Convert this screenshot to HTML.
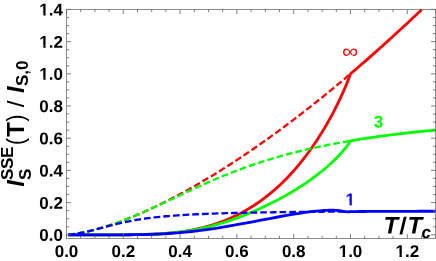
<!DOCTYPE html>
<html><head><meta charset="utf-8"><title>SSE spin current</title>
<style>
html,body{margin:0;padding:0;background:#fff;}
body{width:436px;height:261px;overflow:hidden;font-family:"Liberation Sans",sans-serif;}
svg{display:block;will-change:transform;}
text{font-family:"Liberation Sans",sans-serif;}
.tl{font-weight:bold;font-size:17px;fill:#000;}
.b{font-weight:bold;}
.bi{font-weight:bold;font-style:italic;}
</style></head><body>
<svg width="436" height="261" viewBox="0 0 436 261">
<rect x="0" y="0" width="436" height="261" fill="#ffffff"/>
<defs><clipPath id="cp"><rect x="66.50" y="5.50" width="371.00" height="232.90"/></clipPath></defs>

<g clip-path="url(#cp)" fill="none" stroke-linejoin="round">
<path d="M68.35 234.72 L69.34 234.64 L72.18 234.34 L75.02 233.96 L77.86 233.51 L80.70 233.00 L83.54 232.43 L86.38 231.82 L89.22 231.16 L92.06 230.45 L94.90 229.71 L97.74 228.93 L100.58 228.11 L103.42 227.25 L106.26 226.37 L109.10 225.45 L111.94 224.50 L114.78 223.52 L117.62 222.50 L120.46 221.47 L123.30 220.40 L126.14 219.31 L128.98 218.19 L131.82 217.04 L134.66 215.87 L137.50 214.68 L140.34 213.46 L143.18 212.21 L146.02 210.95 L148.86 209.66 L151.70 208.35 L154.54 207.01 L157.38 205.66 L160.22 204.28 L163.06 202.88 L165.90 201.46 L168.74 200.02 L171.58 198.56 L174.42 197.09 L177.26 195.59 L180.10 194.07 L182.94 192.53 L185.78 190.98 L188.62 189.40 L191.46 187.81 L194.30 186.20 L197.14 184.57 L199.98 182.92 L202.82 181.26 L205.66 179.58 L208.50 177.88 L211.34 176.16 L214.18 174.43 L217.02 172.68 L219.86 170.91 L222.70 169.13 L225.54 167.33 L228.38 165.52 L231.22 163.68 L234.06 161.84 L236.90 159.97 L239.74 158.10 L242.58 156.20 L245.42 154.29 L248.26 152.37 L251.10 150.43 L253.94 148.47 L256.78 146.50 L259.62 144.52 L262.46 142.52 L265.30 140.51 L268.14 138.48 L270.98 136.44 L273.82 134.38 L276.66 132.31 L279.50 130.23 L282.34 128.13 L285.18 126.02 L288.02 123.89 L290.86 121.75 L293.70 119.60 L296.54 117.43 L299.38 115.25 L302.22 113.06 L305.06 110.85 L307.90 108.63 L310.74 106.40 L313.58 104.15 L316.42 101.89 L319.26 99.62 L322.10 97.34 L324.94 95.04 L327.78 92.73 L330.62 90.41 L333.46 88.07 L336.30 85.72 L339.14 83.36 L341.98 80.99 L344.82 78.61 L347.66 76.21 L350.50 73.80" stroke="#ff0000" stroke-width="2.3" stroke-dasharray="6.7 3.0" stroke-dashoffset="0.2"/>
<path d="M68.35 234.80 L72.18 234.80 L77.86 234.80 L83.54 234.80 L89.22 234.80 L94.90 234.80 L100.58 234.80 L106.26 234.80 L111.94 234.80 L117.62 234.79 L123.30 234.78 L128.98 234.75 L134.66 234.69 L140.34 234.61 L146.02 234.47 L151.70 234.27 L157.38 234.00 L163.06 233.64 L168.74 233.18 L174.42 232.61 L180.10 231.91 L185.78 231.08 L191.46 230.09 L197.14 228.93 L202.82 227.60 L208.50 226.08 L214.18 224.36 L219.86 222.42 L225.54 220.26 L231.22 217.84 L236.90 215.18 L242.58 212.24 L248.26 209.01 L253.94 205.49 L259.62 201.64 L265.30 197.46 L270.98 192.92 L276.66 188.00 L282.34 182.69 L288.02 176.97 L293.70 170.79 L299.38 164.14 L305.06 156.99 L310.74 149.29 L316.42 141.00 L322.10 132.08 L323.52 129.74 L324.94 127.36 L326.36 124.93 L327.78 122.45 L329.20 119.93 L330.62 117.35 L332.04 114.72 L333.46 112.03 L334.88 109.29 L336.30 106.49 L337.72 103.62 L339.14 100.69 L340.56 97.69 L341.98 94.61 L343.40 91.44 L344.82 88.19 L346.24 84.83 L347.66 81.35 L349.08 77.72 L350.47 73.89 L350.50 73.80 L353.34 71.38 L356.18 68.95 L359.02 66.50 L361.86 64.04 L364.70 61.58 L367.54 59.09 L370.38 56.60 L373.22 54.10 L376.06 51.58 L378.90 49.06 L381.74 46.52 L384.58 43.97 L387.42 41.41 L390.26 38.83 L393.10 36.25 L395.94 33.65 L398.78 31.05 L401.62 28.43 L404.46 25.80 L407.30 23.16 L410.14 20.51 L412.98 17.85 L415.82 15.17 L418.66 12.49 L421.50 9.80 L421.92 9.40" stroke="#ff0000" stroke-width="2.8"/>
<path d="M68.35 234.72 L69.34 234.64 L72.18 234.34 L75.02 233.96 L77.86 233.51 L80.70 233.00 L83.54 232.43 L86.38 231.82 L89.22 231.16 L92.06 230.45 L94.90 229.71 L97.74 228.93 L100.58 228.11 L103.42 227.25 L106.26 226.37 L109.10 225.45 L111.94 224.50 L114.78 223.52 L117.62 222.51 L120.46 221.47 L123.30 220.40 L126.14 219.31 L128.98 218.19 L131.82 217.05 L134.66 215.88 L137.50 214.69 L140.34 213.48 L143.18 212.25 L146.02 211.00 L148.86 209.74 L151.70 208.45 L154.54 207.16 L157.38 205.85 L160.22 204.53 L163.06 203.21 L165.90 201.87 L168.74 200.53 L171.58 199.19 L174.42 197.85 L177.26 196.51 L180.10 195.16 L182.94 193.83 L185.78 192.49 L188.62 191.16 L191.46 189.84 L194.30 188.53 L197.14 187.23 L199.98 185.94 L202.82 184.67 L205.66 183.40 L208.50 182.15 L211.34 180.92 L214.18 179.70 L217.02 178.49 L219.86 177.31 L222.70 176.14 L225.54 174.98 L228.38 173.85 L231.22 172.73 L234.06 171.63 L236.90 170.55 L239.74 169.48 L242.58 168.44 L245.42 167.41 L248.26 166.41 L251.10 165.42 L253.94 164.45 L256.78 163.49 L259.62 162.56 L262.46 161.64 L265.30 160.74 L268.14 159.86 L270.98 159.00 L273.82 158.15 L276.66 157.32 L279.50 156.51 L282.34 155.71 L285.18 154.93 L288.02 154.16 L290.86 153.41 L293.70 152.68 L296.54 151.96 L299.38 151.26 L302.22 150.57 L305.06 149.89 L307.90 149.23 L310.74 148.59 L313.58 147.95 L316.42 147.33 L319.26 146.72 L322.10 146.13 L324.94 145.54 L327.78 144.97 L330.62 144.41 L333.46 143.87 L336.30 143.33 L339.14 142.80 L341.98 142.29 L344.82 141.79 L347.66 141.29 L350.50 140.81" stroke="#00ff00" stroke-width="2.3" stroke-dasharray="6.7 3.0" stroke-dashoffset="0.2"/>
<path d="M68.35 234.80 L72.18 234.80 L77.86 234.80 L83.54 234.80 L89.22 234.80 L94.90 234.80 L100.58 234.80 L106.26 234.80 L111.94 234.80 L117.62 234.79 L123.30 234.78 L128.98 234.75 L134.66 234.69 L140.34 234.61 L146.02 234.47 L151.70 234.27 L157.38 234.01 L163.06 233.66 L168.74 233.21 L174.42 232.67 L180.10 232.01 L185.78 231.22 L191.46 230.31 L197.14 229.27 L202.82 228.09 L208.50 226.77 L214.18 225.31 L219.86 223.71 L225.54 221.97 L231.22 220.08 L236.90 218.06 L242.58 215.91 L248.26 213.63 L253.94 211.23 L259.62 208.72 L265.30 206.09 L270.98 203.32 L276.66 200.42 L282.34 197.37 L288.02 194.18 L293.70 190.83 L299.38 187.30 L305.06 183.58 L310.74 179.65 L316.42 175.47 L322.10 171.01 L323.52 169.85 L324.94 168.66 L326.36 167.45 L327.78 166.21 L329.20 164.95 L330.62 163.67 L332.04 162.35 L333.46 161.00 L334.88 159.63 L336.30 158.21 L337.72 156.76 L339.14 155.26 L340.56 153.73 L341.98 152.13 L343.40 150.49 L344.82 148.78 L346.24 146.99 L347.66 145.10 L349.08 143.08 L350.47 140.86 L350.50 140.81 L353.34 140.33 L356.18 139.87 L359.02 139.42 L361.86 138.97 L364.70 138.53 L367.54 138.11 L370.38 137.69 L373.22 137.28 L376.06 136.87 L378.90 136.48 L381.74 136.09 L384.58 135.71 L387.42 135.34 L390.26 134.98 L393.10 134.62 L395.94 134.27 L398.78 133.92 L401.62 133.59 L404.46 133.26 L407.30 132.93 L410.14 132.61 L412.98 132.30 L415.82 132.00 L418.66 131.70 L421.50 131.40 L424.34 131.11 L427.18 130.83 L430.02 130.55 L432.86 130.28 L435.70 130.01" stroke="#00ff00" stroke-width="2.8"/>
<path d="M68.35 234.72 L69.34 234.64 L72.18 234.34 L75.02 233.96 L77.86 233.51 L80.70 233.00 L83.54 232.43 L86.38 231.82 L89.22 231.16 L92.06 230.46 L94.90 229.73 L97.74 228.98 L100.58 228.21 L103.42 227.43 L106.26 226.66 L109.10 225.90 L111.94 225.15 L114.78 224.43 L117.62 223.74 L120.46 223.07 L123.30 222.43 L126.14 221.83 L128.98 221.26 L131.82 220.72 L134.66 220.21 L137.50 219.73 L140.34 219.28 L143.18 218.86 L146.02 218.46 L148.86 218.09 L151.70 217.73 L154.54 217.41 L157.38 217.10 L160.22 216.80 L163.06 216.53 L165.90 216.27 L168.74 216.03 L171.58 215.80 L174.42 215.59 L177.26 215.39 L180.10 215.20 L182.94 215.02 L185.78 214.85 L188.62 214.68 L191.46 214.53 L194.30 214.39 L197.14 214.25 L199.98 214.12 L202.82 214.00 L205.66 213.88 L208.50 213.77 L211.34 213.67 L214.18 213.57 L217.02 213.47 L219.86 213.38 L222.70 213.29 L225.54 213.21 L228.38 213.13 L231.22 213.06 L234.06 212.99 L236.90 212.92 L239.74 212.85 L242.58 212.79 L245.42 212.73 L248.26 212.67 L251.10 212.62 L253.94 212.56 L256.78 212.51 L259.62 212.46 L262.46 212.42 L265.30 212.37 L268.14 212.33 L270.98 212.29 L273.82 212.25 L276.66 212.21 L279.50 212.17 L282.34 212.14 L285.18 212.10 L288.02 212.07 L290.86 212.04 L293.70 212.00 L296.54 211.97 L299.38 211.95 L302.22 211.92 L305.06 211.89 L307.90 211.86 L310.74 211.84 L313.58 211.81 L316.42 211.79 L319.26 211.77 L322.10 211.75 L324.94 211.72 L327.78 211.70 L330.62 211.68 L333.46 211.66 L336.30 211.64 L339.14 211.63 L341.98 211.61 L344.82 211.59 L347.66 211.57 L350.50 211.56" stroke="#0000ff" stroke-width="2.3" stroke-dasharray="6.7 3.0" stroke-dashoffset="0.2"/>
<path d="M68.35 234.80 L72.18 234.80 L77.86 234.80 L83.54 234.80 L89.22 234.80 L94.90 234.80 L100.58 234.80 L106.26 234.80 L111.94 234.80 L117.62 234.79 L123.30 234.78 L128.98 234.75 L134.66 234.70 L140.34 234.62 L146.02 234.50 L151.70 234.34 L157.38 234.12 L163.06 233.85 L168.74 233.51 L174.42 233.11 L180.10 232.64 L185.78 232.11 L191.46 231.51 L197.14 230.85 L202.82 230.13 L208.50 229.35 L214.18 228.52 L219.86 227.63 L225.54 226.71 L231.22 225.74 L236.90 224.74 L242.58 223.70 L248.26 222.65 L253.94 221.57 L259.62 220.49 L265.30 219.40 L270.98 218.32 L276.66 217.25 L282.34 216.20 L288.02 215.18 L293.70 214.21 L299.38 213.29 L305.06 212.44 L310.74 211.69 L316.42 211.05 L322.10 210.57 L323.52 210.47 L324.94 210.39 L326.36 210.33 L327.78 210.28 L329.20 210.24 L330.62 210.22 L332.04 210.23 L333.46 210.25 L334.88 210.30 L336.30 210.38 L337.72 210.48 L339.14 210.62 L340.56 210.80 L341.98 211.02 L343.40 211.29 L344.82 211.53 L346.24 211.71 L347.66 211.82 L349.08 211.80 L350.47 211.57 L350.50 211.56 L353.34 211.54 L356.18 211.53 L359.02 211.51 L361.86 211.50 L364.70 211.48 L367.54 211.47 L370.38 211.46 L373.22 211.44 L376.06 211.43 L378.90 211.42 L381.74 211.40 L384.58 211.39 L387.42 211.38 L390.26 211.37 L393.10 211.36 L395.94 211.35 L398.78 211.34 L401.62 211.33 L404.46 211.32 L407.30 211.31 L410.14 211.30 L412.98 211.29 L415.82 211.28 L418.66 211.27 L421.50 211.26 L424.34 211.26 L427.18 211.25 L430.02 211.24 L432.86 211.23 L435.70 211.22" stroke="#0000ff" stroke-width="2.8"/>
</g>
<g stroke="#606060" stroke-width="0.7" fill="none">
<rect x="66.50" y="9.50" width="369.00" height="228.90"/>
<path d="M66.50 238.40 v-4.50 M66.50 9.50 v4.50 M80.70 238.40 v-2.60 M80.70 9.50 v2.60 M94.90 238.40 v-2.60 M94.90 9.50 v2.60 M109.10 238.40 v-2.60 M109.10 9.50 v2.60 M123.30 238.40 v-4.50 M123.30 9.50 v4.50 M137.50 238.40 v-2.60 M137.50 9.50 v2.60 M151.70 238.40 v-2.60 M151.70 9.50 v2.60 M165.90 238.40 v-2.60 M165.90 9.50 v2.60 M180.10 238.40 v-4.50 M180.10 9.50 v4.50 M194.30 238.40 v-2.60 M194.30 9.50 v2.60 M208.50 238.40 v-2.60 M208.50 9.50 v2.60 M222.70 238.40 v-2.60 M222.70 9.50 v2.60 M236.90 238.40 v-4.50 M236.90 9.50 v4.50 M251.10 238.40 v-2.60 M251.10 9.50 v2.60 M265.30 238.40 v-2.60 M265.30 9.50 v2.60 M279.50 238.40 v-2.60 M279.50 9.50 v2.60 M293.70 238.40 v-4.50 M293.70 9.50 v4.50 M307.90 238.40 v-2.60 M307.90 9.50 v2.60 M322.10 238.40 v-2.60 M322.10 9.50 v2.60 M336.30 238.40 v-2.60 M336.30 9.50 v2.60 M350.50 238.40 v-4.50 M350.50 9.50 v4.50 M364.70 238.40 v-2.60 M364.70 9.50 v2.60 M378.90 238.40 v-2.60 M378.90 9.50 v2.60 M393.10 238.40 v-2.60 M393.10 9.50 v2.60 M407.30 238.40 v-4.50 M407.30 9.50 v4.50 M421.50 238.40 v-2.60 M421.50 9.50 v2.60 M435.70 238.40 v-2.60 M435.70 9.50 v2.60 M66.50 234.80 h4.50 M435.50 234.80 h-4.50 M66.50 226.75 h2.60 M435.50 226.75 h-2.60 M66.50 218.70 h2.60 M435.50 218.70 h-2.60 M66.50 210.65 h2.60 M435.50 210.65 h-2.60 M66.50 202.60 h4.50 M435.50 202.60 h-4.50 M66.50 194.55 h2.60 M435.50 194.55 h-2.60 M66.50 186.50 h2.60 M435.50 186.50 h-2.60 M66.50 178.45 h2.60 M435.50 178.45 h-2.60 M66.50 170.40 h4.50 M435.50 170.40 h-4.50 M66.50 162.35 h2.60 M435.50 162.35 h-2.60 M66.50 154.30 h2.60 M435.50 154.30 h-2.60 M66.50 146.25 h2.60 M435.50 146.25 h-2.60 M66.50 138.20 h4.50 M435.50 138.20 h-4.50 M66.50 130.15 h2.60 M435.50 130.15 h-2.60 M66.50 122.10 h2.60 M435.50 122.10 h-2.60 M66.50 114.05 h2.60 M435.50 114.05 h-2.60 M66.50 106.00 h4.50 M435.50 106.00 h-4.50 M66.50 97.95 h2.60 M435.50 97.95 h-2.60 M66.50 89.90 h2.60 M435.50 89.90 h-2.60 M66.50 81.85 h2.60 M435.50 81.85 h-2.60 M66.50 73.80 h4.50 M435.50 73.80 h-4.50 M66.50 65.75 h2.60 M435.50 65.75 h-2.60 M66.50 57.70 h2.60 M435.50 57.70 h-2.60 M66.50 49.65 h2.60 M435.50 49.65 h-2.60 M66.50 41.60 h4.50 M435.50 41.60 h-4.50 M66.50 33.55 h2.60 M435.50 33.55 h-2.60 M66.50 25.50 h2.60 M435.50 25.50 h-2.60 M66.50 17.45 h2.60 M435.50 17.45 h-2.60 M66.50 9.40 h4.50 M435.50 9.40 h-4.50" stroke="#606060" stroke-width="0.8"/>
</g>
<g class="tl">
<text x="63.00" y="240.85" transform="rotate(0.03 63.00 240.85)" text-anchor="end">0.0</text>
<text x="63.00" y="208.65" transform="rotate(0.03 63.00 208.65)" text-anchor="end">0.2</text>
<text x="63.00" y="176.45" transform="rotate(0.03 63.00 176.45)" text-anchor="end">0.4</text>
<text x="63.00" y="144.25" transform="rotate(0.03 63.00 144.25)" text-anchor="end">0.6</text>
<text x="63.00" y="112.05" transform="rotate(0.03 63.00 112.05)" text-anchor="end">0.8</text>
<text x="63.00" y="79.85" transform="rotate(0.03 63.00 79.85)" text-anchor="end">1.0</text>
<text x="63.00" y="47.65" transform="rotate(0.03 63.00 47.65)" text-anchor="end">1.2</text>
<text x="63.00" y="15.45" transform="rotate(0.03 63.00 15.45)" text-anchor="end">1.4</text>
<text x="66.50" y="257.00" transform="rotate(0.03 66.50 257.00)" text-anchor="middle">0.0</text>
<text x="123.30" y="257.00" transform="rotate(0.03 123.30 257.00)" text-anchor="middle">0.2</text>
<text x="180.10" y="257.00" transform="rotate(0.03 180.10 257.00)" text-anchor="middle">0.4</text>
<text x="236.90" y="257.00" transform="rotate(0.03 236.90 257.00)" text-anchor="middle">0.6</text>
<text x="293.70" y="257.00" transform="rotate(0.03 293.70 257.00)" text-anchor="middle">0.8</text>
<text x="350.50" y="257.00" transform="rotate(0.03 350.50 257.00)" text-anchor="middle">1.0</text>
<text x="407.30" y="257.00" transform="rotate(0.03 407.30 257.00)" text-anchor="middle">1.2</text>
</g>
<text transform="translate(350.20 57.90) scale(1.2 1.04) rotate(0.03)" x="0" y="0" font-size="19" fill="#ff0000" text-anchor="middle">&#8734;</text>
<text x="378.60" y="127.60" transform="rotate(0.03 378.60 127.60)" font-size="17" fill="#00ff00" class="b" text-anchor="middle">3</text>
<text x="350.30" y="205.20" transform="rotate(0.03 350.30 205.20)" font-size="17" fill="#0000ff" class="b" text-anchor="middle">1</text>
<g fill="#ffffff">
<rect x="39.62" y="77.12" width="3.72" height="3.43"/><rect x="45.67" y="77.12" width="3.66" height="3.43"/>
<rect x="39.62" y="44.92" width="3.72" height="3.43"/><rect x="45.67" y="44.92" width="3.66" height="3.43"/>
<rect x="39.62" y="12.72" width="3.72" height="3.43"/><rect x="45.67" y="12.72" width="3.66" height="3.43"/>
<rect x="338.93" y="254.27" width="3.72" height="3.43"/><rect x="344.98" y="254.27" width="3.66" height="3.43"/>
<rect x="395.73" y="254.27" width="3.72" height="3.43"/><rect x="401.78" y="254.27" width="3.66" height="3.43"/>
<rect x="345.82" y="202.47" width="3.72" height="3.43"/><rect x="351.87" y="202.47" width="3.66" height="3.43"/>
</g>
<g fill="#000">
<text y="233.60" transform="rotate(0.03 383.50 233.60)" font-size="24" class="bi"><tspan x="383.50">T</tspan><tspan x="407.60">T</tspan></text>
<text transform="translate(399.20 233.60) skewX(-3)" font-size="24" class="b">/</text>
<text x="421.50" y="238.00" transform="rotate(0.03 421.50 238.00)" font-size="17" class="bi">c</text>
</g>
<g fill="#000" transform="translate(24.10 186.70) rotate(-90)">
<text x="0.00" y="0.00" font-size="24" class="bi">I</text>
<text x="6.70" y="-11.30" font-size="17" class="b" letter-spacing="-0.35">SSE</text>
<text x="6.70" y="6.60" font-size="17" class="b">S</text>
<text transform="translate(41.76 0.00) scale(0.857 1)" font-size="24.6">(</text>
<text x="50.00" y="0.00" font-size="24" class="b">T</text>
<text transform="translate(65.24 0.00) scale(0.857 1)" font-size="24.6">)</text>
<text x="79.40" y="0.00" font-size="24">/</text>
<text x="93.60" y="0.00" font-size="24" class="bi">I</text>
<text x="100.60" y="3.60" font-size="17" class="b">S,0</text>
</g>
</svg></body></html>
